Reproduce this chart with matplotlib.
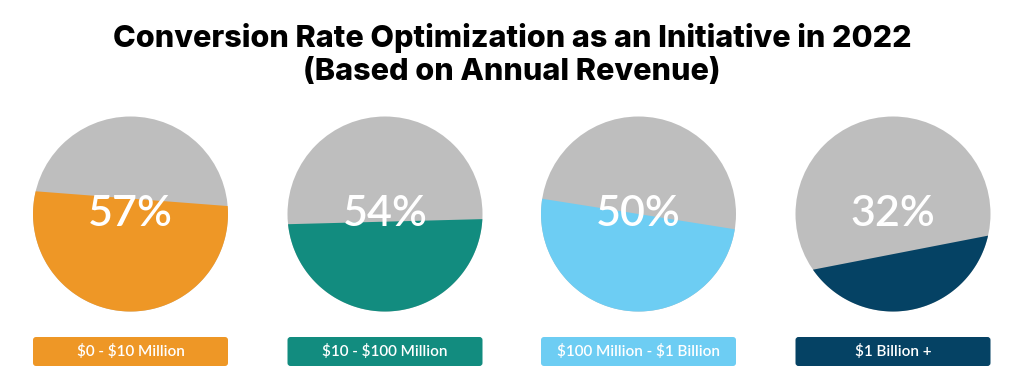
import numpy as np
import matplotlib.pyplot as plt
from matplotlib.patches import FancyBboxPatch, Circle, Polygon

# data
segments = ["\\$0 - \\$10 Million", "\\$10 - \\$100 Million",
            "\\$100 Million - \\$1 Billion", "\\$1 Billion +"]
pct_labels = ["57%", "54%", "50%", "32%"]
# filled share of each circle as drawn in the reference, and tilt of the fill line (deg)
fill_share = [0.60, 0.45, 0.50, 0.25]
tilt_deg = [-4.4, 1.5, -9.0, 11.0]
colors = ["#EE9726", "#128C7F", "#6DCDF3", "#054264"]
rest_color = "#BEBEBE"

W, H = 1024, 388
fig = plt.figure(figsize=(W / 100, H / 100), dpi=100)
ax = fig.add_axes([0, 0, 1, 1])

centers_x = [130.5, 385, 638.5, 893]
cy = H - 214
r = 97.5


def fill_offset(share):
    # height h of the fill line so that the part below it covers `share` of the circle
    lo, hi = -1.0, 1.0
    for _ in range(60):
        h = (lo + hi) / 2
        frac = (np.pi - np.arccos(h) + h * np.sqrt(1 - h * h)) / np.pi
        if frac < share:
            lo = h
        else:
            hi = h
    return (lo + hi) / 2


for i in range(4):
    cx = centers_x[i]
    ax.add_patch(Circle((cx, cy), r, facecolor=rest_color, edgecolor="none"))
    h = fill_offset(fill_share[i])
    alpha = np.arccos(h)
    phi_n = np.radians(tilt_deg[i]) + np.pi / 2
    phi = np.linspace(phi_n + alpha, phi_n + 2 * np.pi - alpha, 300)
    pts = np.column_stack([cx + r * np.cos(phi), cy + r * np.sin(phi)])
    ax.add_patch(Polygon(pts, closed=True, facecolor=colors[i], edgecolor="none"))

    ax.text(cx, cy, pct_labels[i], color="white", fontsize=31,
            fontfamily="Lato", fontweight="semibold", ha="center", va="center")
    box = FancyBboxPatch((cx - r, H - 366), 2 * r, 29,
                         boxstyle="round,pad=0,rounding_size=3",
                         facecolor=colors[i], edgecolor="none")
    ax.add_patch(box)
    ax.text(cx, H - 351.5, segments[i], color="white", fontsize=11,
            fontfamily="Lato", fontweight="semibold", ha="center", va="center")

ax.set_xlim(0, W)
ax.set_ylim(0, H)
ax.set_aspect("equal")
ax.axis("off")

ax.text(W / 2, H - 38, "Conversion Rate Optimization as an Initiative in 2022",
        fontsize=22, fontweight="heavy", fontfamily="Inter",
        ha="center", va="center", color="black")
ax.text(W / 2, H - 72, "(Based on Annual Revenue)",
        fontsize=22, fontweight="heavy", fontfamily="Inter",
        ha="center", va="center", color="black")

fig.savefig("out.png", dpi=100)
